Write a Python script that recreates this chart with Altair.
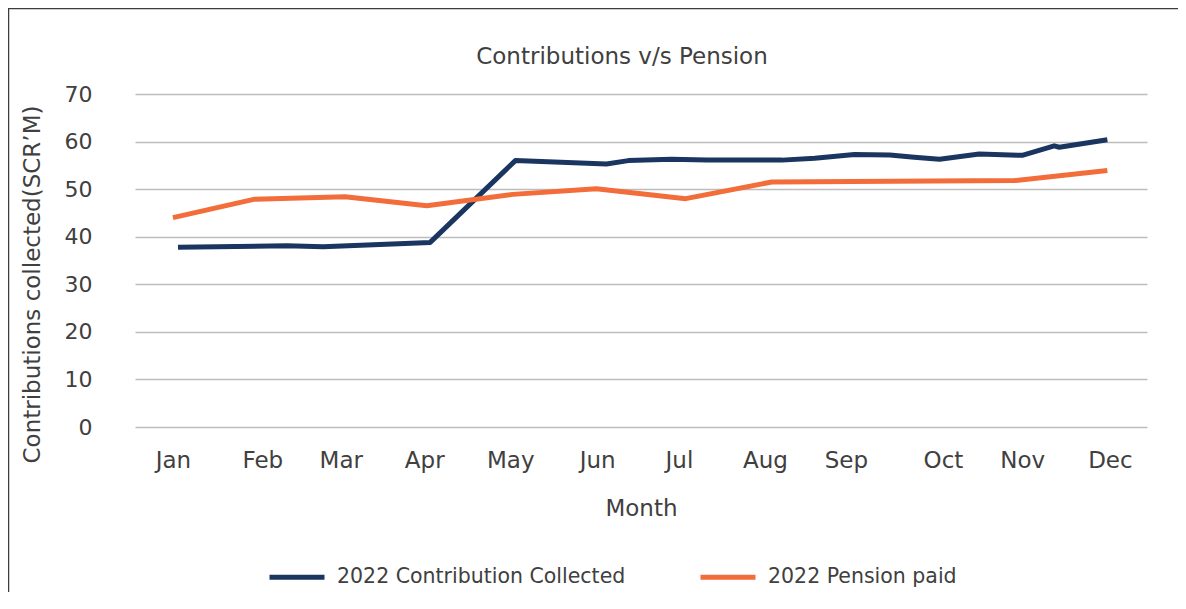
import altair as alt
import pandas as pd

# ---- data ----
months = ["Jan", "Feb", "Mar", "Apr", "May", "Jun", "Jul", "Aug", "Sep", "Oct", "Nov", "Dec"]
month_pos = [0.45, 1.51, 2.44, 3.43, 4.45, 5.48, 6.45, 7.47, 8.43, 9.58, 10.52, 11.56]

series_names = ["2022 Contribution Collected", "2022 Pension paid"]
series_colors = ["#1b3561", "#f26d3a"]

contrib_x = [0.51, 1.80, 2.23, 3.50, 4.51, 5.59, 5.85, 6.36, 6.78, 7.67, 8.06, 8.53,
             8.95, 9.24, 9.54, 10.01, 10.52, 10.90, 10.96, 11.53]
contrib_y = [37.8, 38.1, 37.9, 38.8, 56.0, 55.3, 56.0, 56.3, 56.1, 56.1, 56.5, 57.3,
             57.2, 56.7, 56.3, 57.4, 57.1, 59.1, 58.8, 60.4]

pension_x = [0.45, 1.42, 2.49, 3.46, 4.48, 5.47, 6.53, 7.55, 10.43, 11.53]
pension_y = [44.0, 47.9, 48.4, 46.5, 48.9, 50.1, 48.0, 51.5, 51.8, 53.9]

y_ticks = [0, 10, 20, 30, 40, 50, 60, 70]

rows = []
for xv, yv in zip(contrib_x, contrib_y):
    rows.append({"x": xv, "value": yv, "series": series_names[0]})
for xv, yv in zip(pension_x, pension_y):
    rows.append({"x": xv, "value": yv, "series": series_names[1]})
df = pd.DataFrame(rows)

FONT = "DejaVu Sans"
TXT = "#404040"

label_expr = "[" + ",".join("'%s'" % m for m in months) + "][indexof([" + \
    ",".join(str(p) for p in month_pos) + "], datum.value)]"

lines = alt.Chart(df).mark_line(strokeWidth=5, strokeJoin="round", strokeCap="butt").encode(
    x=alt.X("x:Q",
            scale=alt.Scale(domain=[0, 12], nice=False, zero=False),
            axis=alt.Axis(values=month_pos, labelExpr=label_expr, title="Month",
                          grid=False, ticks=False, tickSize=0, domain=False,
                          labelPadding=33, labelBaseline="middle", labelOverlap=False,
                          labelFlush=False, labelFontSize=23, labelFont=FONT, labelColor=TXT,
                          titleFontSize=23, titleFont=FONT, titleColor=TXT, titleFontWeight="normal",
                          titleY=81, titleBaseline="middle")),
    y=alt.Y("value:Q",
            scale=alt.Scale(domain=[0, 70], nice=False),
            axis=alt.Axis(values=y_ticks, title="Contributions collected(SCR’M)",
                          grid=True, gridColor="#bdbdbd", gridWidth=1.3,
                          ticks=False, tickSize=0, domain=False, labelPadding=43,
                          labelFontSize=22, labelFont=FONT, labelColor=TXT,
                          titleFontSize=23, titleFont=FONT, titleColor=TXT, titleFontWeight="normal",
                          titleX=-103, titleY=190, titleBaseline="middle", titleLimit=600)),
    color=alt.Color("series:N",
                    scale=alt.Scale(domain=series_names, range=series_colors),
                    legend=alt.Legend(title=None, orient="none", direction="horizontal",
                                      legendX=132, legendY=453,
                                      symbolType="stroke", symbolSize=3025, symbolStrokeWidth=5,
                                      labelFontSize=20.5, labelFont=FONT, labelColor=TXT,
                                      labelLimit=500, labelOffset=10, columnPadding=64)),
)

frame = alt.Chart(pd.DataFrame({"k": [0]})).mark_rect(
    filled=False, stroke="#3c3c3c", strokeWidth=1.5
).encode(
    x=alt.value(-126.5), x2=alt.value(1400), y=alt.value(-85.5), y2=alt.value(800)
)

chart = alt.layer(frame, lines).properties(
    width=1012, height=333,
    padding={"left": 127, "top": 86, "right": 31, "bottom": 165},
    autosize=alt.AutoSizeParams(type="none"),
    title=alt.TitleParams("Contributions v/s Pension", fontSize=23, font=FONT, color=TXT,
                          fontWeight="normal", anchor="middle", frame="group",
                          dx=-19, dy=83, offset=22),
).configure_view(stroke="transparent")

chart.save("out.html", embed_options={"renderer": "svg", "actions": False})
